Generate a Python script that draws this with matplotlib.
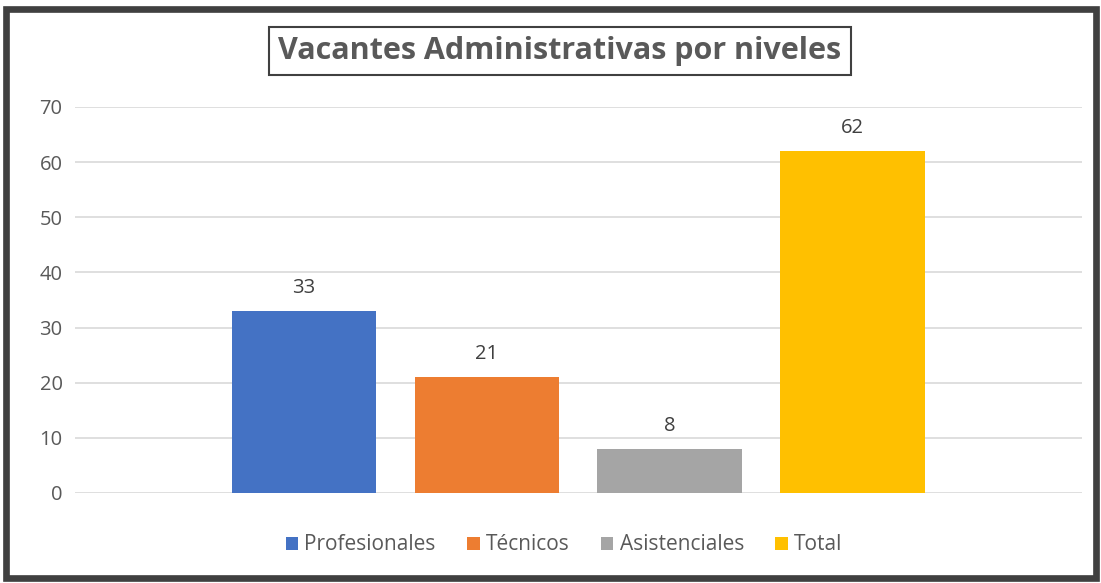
import matplotlib
matplotlib.use("Agg")
import matplotlib.pyplot as plt
from matplotlib.patches import Patch, Rectangle

# Datos
categorias = ["Profesionales", "Técnicos", "Asistenciales", "Total"]
valores = [33, 21, 8, 62]
colores = ["#4472C4", "#ED7D31", "#A5A5A5", "#FFC000"]
titulo = "Vacantes Administrativas por niveles"

plt.rcParams["font.family"] = ["Open Sans", "DejaVu Sans"]
gris_texto = "#595959"

fig = plt.figure(figsize=(11.01, 5.83), dpi=100)
ax = fig.add_axes([75 / 1101, 1 - 493 / 583, (1082 - 75) / 1101, (493 - 107) / 583])

x = list(range(len(categorias)))
barras = ax.bar(x, valores, width=0.79, color=colores, zorder=3)

for xi, v in zip(x, valores):
    ax.annotate(str(v), (xi, v), xytext=(0, 16.5), textcoords="offset points",
                ha="center", va="center", fontsize=14.5, color="#404040")

ax.set_xlim(-1.253, 3 + 1.256)
ax.set_ylim(0, 70)
ax.set_yticks(range(0, 71, 10))
ax.set_xticks([])
ax.yaxis.grid(True, color="#D9D9D9", linewidth=1.2, zorder=0)
ax.tick_params(axis="y", length=0, labelsize=14.5, labelcolor=gris_texto, pad=9)
for s in ax.spines.values():
    s.set_visible(False)

# Titulo con recuadro
fig.text(560 / 1101, 1 - 51 / 583, titulo, ha="center", va="center",
         fontsize=22, fontweight="bold", color=gris_texto,
         bbox=dict(boxstyle="square,pad=0.3", facecolor="white",
                   edgecolor="#404040", linewidth=1.5))

# Leyenda
handles = [Patch(facecolor=c, edgecolor="none") for c in colores]
fig.legend(handles, categorias, loc="center", bbox_to_anchor=(564 / 1101, 1 - 545 / 583),
           ncol=4, frameon=False, fontsize=15, handlelength=0.6, handleheight=0.6,
           handletextpad=0.3, columnspacing=1.5, labelcolor=gris_texto)

# Borde exterior
fig.patches.append(Rectangle((5.5 / 1101, 5.5 / 583), 1090 / 1101, 569 / 583,
                             transform=fig.transFigure, fill=False,
                             edgecolor="#404040", linewidth=4.8))

fig.savefig("out.png", dpi=100)
